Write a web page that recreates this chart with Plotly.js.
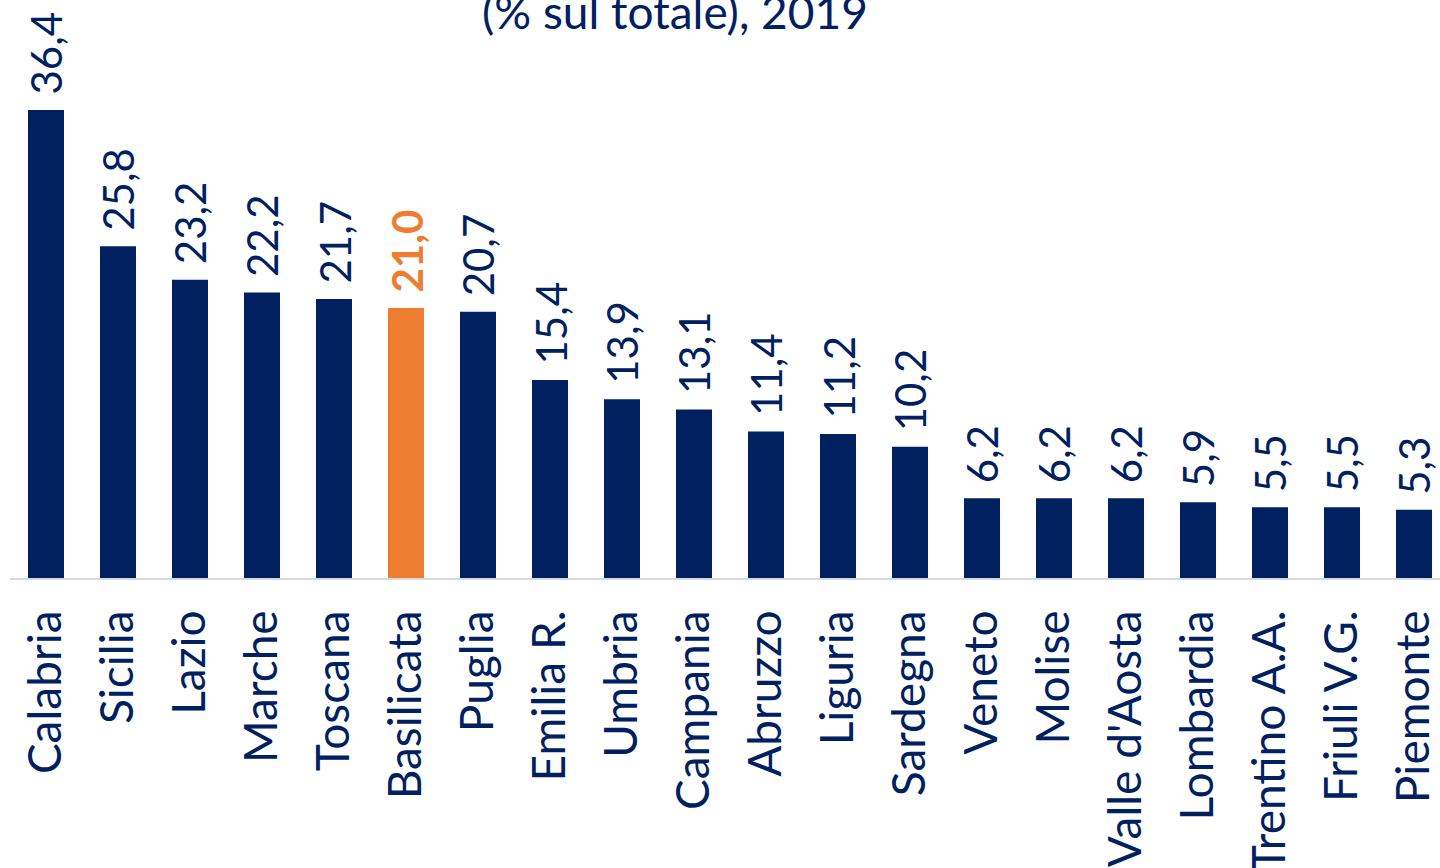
<!DOCTYPE html>
<html>
<head>
<meta charset="utf-8">
<script src="https://cdn.plot.ly/plotly-3.0.1.min.js"></script>
<style>html,body{margin:0;padding:0;background:#fff;}#chart{width:1440px;height:868px;}</style>
</head>
<body>
<div id="chart"></div>
<script>
const regions = ["Calabria","Sicilia","Lazio","Marche","Toscana","Basilicata","Puglia","Emilia R.","Umbria","Campania","Abruzzo","Liguria","Sardegna","Veneto","Molise","Valle d'Aosta","Lombardia","Trentino A.A.","Friuli V.G.","Piemonte"];
const values = [36.4,25.8,23.2,22.2,21.7,21.0,20.7,15.4,13.9,13.1,11.4,11.2,10.2,6.2,6.2,6.2,5.9,5.5,5.5,5.3];
const highlight = "Basilicata";
const titleText = "(% sul totale), 2019";

const NAVY = "#002060", ORANGE = "#ED7D31";
const FONT = "Lato, 'Open Sans', sans-serif";
const colors = regions.map(r => r === highlight ? ORANGE : NAVY);

const trace = {
  type: "bar",
  x: regions,
  y: values,
  marker: {color: colors},
  hoverinfo: "none"
};

const annotations = regions.map((r, i) => ({
  x: r, y: values[i], xref: "x", yref: "y",
  text: r === highlight ? "<b>" + values[i].toFixed(1).replace(".", ",") + "</b>" : values[i].toFixed(1).replace(".", ","),
  textangle: -90,
  showarrow: false,
  xanchor: "center", yanchor: "bottom",
  yshift: 13,
  font: {family: FONT, size: 42, color: r === highlight ? ORANGE : NAVY}
}));
annotations.push({
  text: titleText, xref: "paper", yref: "paper", x: 0.465, y: 1, yshift: 18,
  xanchor: "center", yanchor: "top", showarrow: false,
  font: {family: FONT, size: 46, color: NAVY}
});

const layout = {
  width: 1440, height: 868,
  margin: {l: 10, r: 0, t: 0, b: 290},
  paper_bgcolor: "#fff", plot_bgcolor: "#fff",
  bargap: 0.5,
  showlegend: false,
  xaxis: {
    range: [-0.5, 19.361],
    tickangle: -90,
    tickfont: {family: FONT, size: 46, color: NAVY},
    ticks: "outside", ticklen: 12, tickcolor: "rgba(0,0,0,0)",
    showline: true, linecolor: "#d9d9d9", linewidth: 2,
    showgrid: false, zeroline: false, fixedrange: true
  },
  yaxis: {
    range: [0, 44.955],
    visible: false, showgrid: false, zeroline: false
  },
  annotations: annotations
};

Plotly.newPlot("chart", [trace], layout, {displayModeBar: false, staticPlot: true});
</script>
</body>
</html>
